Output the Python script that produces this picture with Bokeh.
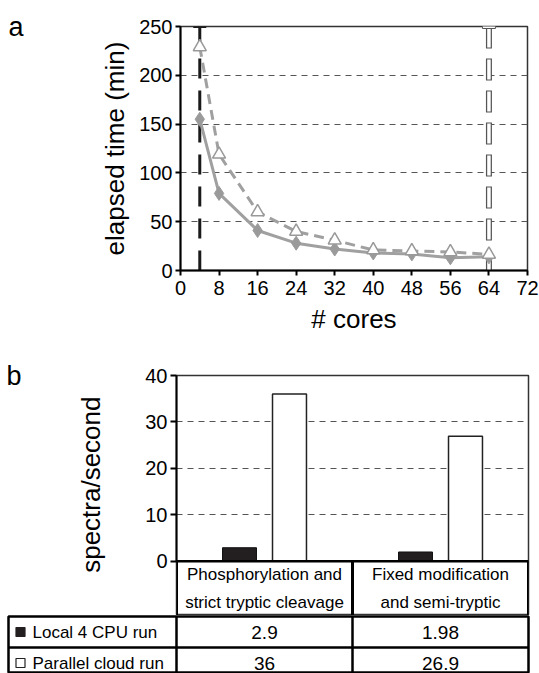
import math
from bokeh.plotting import figure
from bokeh.models import Range1d, FactorRange, FixedTicker, LinearAxis, ColumnDataSource, Span
from bokeh.transform import dodge
from bokeh.layouts import column
from bokeh.core.properties import value
from bokeh.embed import file_html
from bokeh.resources import INLINE

FONT = "Liberation Sans"

# ---------------- data: panel a ----------------
cores = [4, 8, 16, 24, 32, 40, 48, 56, 64]
time_solid = [155, 79, 41, 28, 22, 18, 17, 13, 14]
time_dashed = [229, 119, 60, 40, 31, 21, 20, 19, 16.5]
ref_cores = [4, 64]
x_ticks_a = [0, 8, 16, 24, 32, 40, 48, 56, 64, 72]
y_ticks_a = [0, 50, 100, 150, 200, 250]

# ---------------- data: panel b ----------------
categories = ["Phosphorylation and\nstrict tryptic cleavage", "Fixed modification\nand semi-tryptic"]
local_run = [2.9, 1.98]
cloud_run = [36, 26.9]
series_names = ["Local 4 CPU run", "Parallel cloud run"]
y_ticks_b = [0, 10, 20, 30, 40]

GRAY = "#a0a0a0"


def style_axis(ax, size="20px"):
    ax.axis_line_color = "black"
    ax.axis_line_width = 2
    ax.major_tick_line_color = "black"
    ax.major_tick_line_width = 2
    ax.major_tick_in = 0
    ax.major_tick_out = 5
    ax.minor_tick_in = 0
    ax.minor_tick_out = 0
    ax.major_label_text_font = FONT
    ax.major_label_text_font_size = size
    ax.major_label_text_color = "black"
    ax.axis_label_text_font = FONT
    ax.axis_label_text_font_size = "26px"
    ax.axis_label_text_font_style = "normal"
    ax.axis_label_text_color = "black"


def letter_axis(tick, letter, standoff):
    ax = LinearAxis(ticker=FixedTicker(ticks=[tick]), major_label_overrides={tick: letter})
    ax.axis_line_color = None
    ax.major_tick_line_color = None
    ax.major_tick_in = 0
    ax.major_tick_out = 0
    ax.minor_tick_in = 0
    ax.minor_tick_out = 0
    ax.major_label_standoff = standoff
    ax.major_label_text_font = FONT
    ax.major_label_text_font_size = "27px"
    ax.major_label_text_color = "black"
    return ax


# ================= panel a =================
ymax_a = 250
pa = figure(width=539, height=340, x_range=Range1d(0, 72), y_range=Range1d(0, ymax_a),
            output_backend="svg", toolbar_location=None,
            min_border_left=180, min_border_right=12, min_border_top=26, min_border_bottom=70)
pa.frame_align = False
pa.background_fill_color = "white"
pa.border_fill_color = "white"
pa.outline_line_color = "#333333"
pa.outline_line_width = 1.5
pa.xaxis.ticker = FixedTicker(ticks=x_ticks_a)
pa.yaxis.ticker = FixedTicker(ticks=y_ticks_a)
style_axis(pa.xaxis[0])
style_axis(pa.yaxis[0])
pa.xaxis.axis_label = "# cores"
pa.yaxis.axis_label = "elapsed time (min)"
pa.yaxis.major_label_standoff = 3
pa.xaxis.major_label_standoff = 5
pa.yaxis.axis_label_standoff = 6
pa.xaxis.axis_label_standoff = 6
pa.xgrid.visible = False
pa.ygrid.ticker = FixedTicker(ticks=y_ticks_a[1:-1])
pa.ygrid.grid_line_color = "#555555"
pa.ygrid.grid_line_width = 1
pa.ygrid.grid_line_dash = "6 5"
pa.add_layout(letter_axis(ymax_a, "a", 74), "left")

# reference lines (4 local CPUs, 64 cloud cores)
pa.segment(x0=[ref_cores[0]], y0=[ymax_a], x1=[ref_cores[0]], y1=[0],
           line_color="#1a1a1a", line_width=3, line_dash="20 12")
pa.scatter(x=[ref_cores[0]], y=[ymax_a], marker="dash", size=13, line_color="#1a1a1a", line_width=3)
pa.segment(x0=[ref_cores[1]], y0=[ymax_a], x1=[ref_cores[1]], y1=[0],
           line_color="#555555", line_width=6, line_dash="22 10")
pa.segment(x0=[ref_cores[1]], y0=[ymax_a], x1=[ref_cores[1]], y1=[0],
           line_color="white", line_width=3.5, line_dash="20 12", line_dash_offset=-1)
pa.rect(x=[ref_cores[1]], y=[ymax_a], width=13, height=4, width_units="screen", height_units="screen",
        fill_color="white", line_color="#555555", line_width=1)

# series
pa.line(cores, time_dashed, line_color=GRAY, line_width=3, line_dash="10 6")
pa.line(cores, time_solid, line_color=GRAY, line_width=3)
pa.scatter(cores, time_solid, marker="diamond", size=14, fill_color="#9a9a9a", line_color="#9a9a9a")
pa.scatter(cores, time_dashed, marker="triangle", size=13, fill_color="white", line_color="#999999",
           line_width=1.5)

# ================= panel b =================
ybot_b = -11.7
ymax_b = 40
pb = figure(width=539, height=275, x_range=FactorRange(factors=categories), y_range=Range1d(ybot_b, ymax_b),
            x_axis_location=None, output_backend="svg", toolbar_location=None,
            min_border_left=176, min_border_right=11, min_border_top=35, min_border_bottom=0)
pb.frame_align = False
pb.background_fill_color = "white"
pb.border_fill_color = "white"
pb.outline_line_color = "#333333"
pb.outline_line_width = 1.5
pb.yaxis.ticker = FixedTicker(ticks=y_ticks_b)
pb.yaxis.bounds = (0, ymax_b)
style_axis(pb.yaxis[0])
pb.yaxis.major_tick_out = 6
pb.yaxis.major_label_standoff = 3
pb.yaxis.axis_label = "\u00a0\u00a0\u00a0spectra/second"
pb.yaxis.axis_label_standoff = 36
pb.xgrid.visible = False
pb.ygrid.ticker = FixedTicker(ticks=y_ticks_b[1:-1])
pb.ygrid.grid_line_color = "#555555"
pb.ygrid.grid_line_width = 1
pb.ygrid.grid_line_dash = "6 5"
pb.add_layout(letter_axis(ymax_b, "b", 52), "left")

src = ColumnDataSource(dict(cat=categories, local=local_run, cloud=cloud_run,
                            ylab=[ybot_b / 2] * len(categories)))
pb.vbar(x=dodge("cat", -0.142, range=pb.x_range), top="local", width=0.193, source=src,
        fill_color="#231f20", line_color="#111111", line_width=1)
pb.vbar(x=dodge("cat", 0.142, range=pb.x_range), top="cloud", width=0.193, source=src,
        fill_color="white", line_color="#222222", line_width=1.5)

pb.add_layout(Span(location=0, dimension="width", line_color="black", line_width=2.5))
bounds = list(range(len(categories) + 1))
pb.segment(x0=bounds, y0=[0] * len(bounds), x1=bounds, y1=[ybot_b] * len(bounds),
           line_color="black", line_width=3)
pb.text(x="cat", y="ylab", text="cat", source=src, text_font=value(FONT), text_font_size="17px",
        text_align="center", text_baseline="middle", text_line_height=1.45, text_color="black")

# ================= table =================
row_h = 31
tbl_h = 57
xstart = -168 / 176
pt = figure(width=539, height=tbl_h + 1, x_range=Range1d(xstart, len(categories)),
            y_range=Range1d(-tbl_h / row_h, 0), x_axis_location=None, y_axis_location=None,
            output_backend="svg", toolbar_location=None,
            min_border_left=8, min_border_right=11, min_border_top=1, min_border_bottom=0)
pt.frame_align = False
pt.background_fill_color = "white"
pt.border_fill_color = "white"
pt.outline_line_color = "black"
pt.outline_line_width = 2.5
pt.xgrid.visible = False
pt.ygrid.visible = False

inner = list(range(len(categories)))
pt.segment(x0=inner, y0=[0] * len(inner), x1=inner, y1=[-tbl_h / row_h] * len(inner),
           line_color="black", line_width=2.5)
pt.add_layout(Span(location=-1, dimension="width", line_color="black", line_width=2.5))

row_y = [-(r + 0.5) for r in range(len(series_names))]
pt.scatter(x=[xstart + 12 / 176] * 2, y=row_y, marker="square", size=9,
           fill_color=["#231f20", "white"], line_color=["#231f20", "#222222"], line_width=1.2)
pt.text(x=[xstart + 24 / 176] * 2, y=row_y, text=series_names, text_font=value(FONT),
        text_font_size="17px", text_align="left", text_baseline="middle", text_color="black")

vx, vy, vt = [], [], []
for r, series in enumerate([local_run, cloud_run]):
    for i, v in enumerate(series):
        vx.append(i + 0.5)
        vy.append(row_y[r])
        vt.append(f"{v:g}")
pt.text(x=vx, y=vy, text=vt, text_font=value(FONT), text_font_size="19px",
        text_align="center", text_baseline="middle", text_color="black")

layout = column(pa, pb, pt, spacing=0)
open("out.html", "w").write(file_html(layout, INLINE))
